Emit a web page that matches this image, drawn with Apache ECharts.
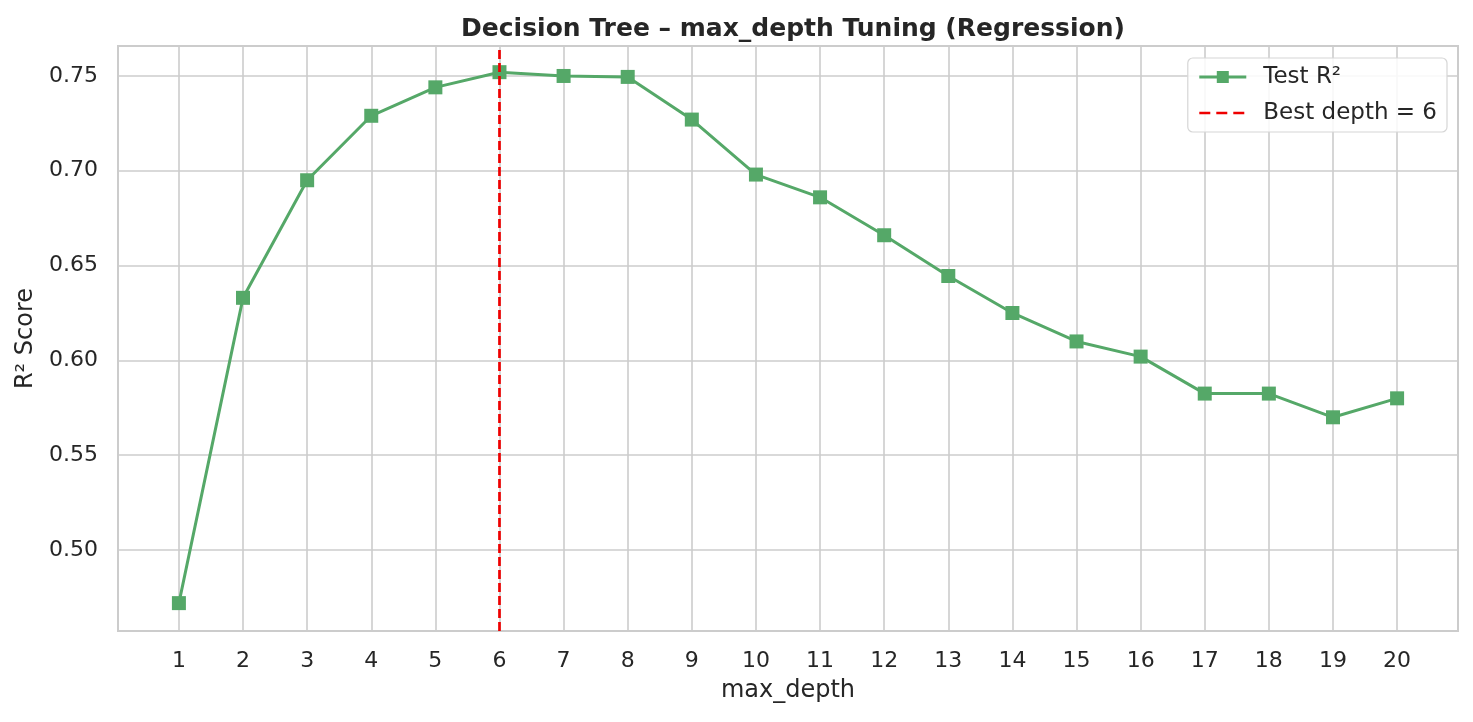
<!DOCTYPE html>
<html>
<head>
<meta charset="utf-8">
<script src="https://cdn.jsdelivr.net/npm/echarts@6/dist/echarts.min.js"></script>
<style>
  html, body { margin: 0; padding: 0; background: #fff; }
  #chart { width: 1473px; height: 722px; }
</style>
</head>
<body>
<div id="chart"></div>
<script>
// max_depth values and test R²
var depths = [1, 2, 3, 4, 5, 6, 7, 8, 9, 10, 11, 12, 13, 14, 15, 16, 17, 18, 19, 20];
var testR2 = [0.472, 0.633, 0.695, 0.729, 0.744, 0.752, 0.750, 0.7495, 0.727, 0.698,
              0.686, 0.666, 0.6445, 0.625, 0.610, 0.602, 0.5825, 0.5825, 0.570, 0.580];
var bestDepth = 6;
var yRange = [0.4573, 0.7658];
var xRange = [0.05, 20.95];

var font = 'DejaVu Sans';
var textColor = '#262626';
var gridColor = '#cccccc';
var green = '#55a868';
var red = '#ee0000';

var chart = echarts.init(document.getElementById('chart'));

chart.setOption({
    animation: false,
    textStyle: { fontFamily: font },
    title: {
        text: 'Decision Tree \u2013 max_depth Tuning (Regression)',
        left: 788, top: 12, textAlign: 'center',
        textStyle: { fontFamily: font, fontSize: 25, fontWeight: 'bold', color: textColor }
    },
    grid: {
        left: 118, right: 15, top: 46, bottom: 91,
        show: true, borderColor: gridColor, borderWidth: 2, backgroundColor: '#fff'
    },
    legend: {
        right: 26, top: 58,
        orient: 'vertical',
        itemGap: 12,
        itemWidth: 47, itemHeight: 15,
        padding: [7, 10, 7, 10],
        borderColor: '#d6d6d6', borderWidth: 1.2, borderRadius: 5,
        backgroundColor: 'rgba(255,255,255,0.85)',
        textStyle: { fontFamily: font, fontSize: 23, lineHeight: 24, color: textColor, padding: [0, 0, 0, 12] },
        data: [
            { name: 'Test R\u00b2', lineStyle: { width: 3 } },
            { name: 'Best depth = 6', lineStyle: { width: 2.7, type: [11, 6] } }
        ]
    },
    xAxis: {
        type: 'value',
        min: xRange[0], max: xRange[1],
        minInterval: 1, maxInterval: 1,
        name: 'max_depth', nameLocation: 'middle', nameGap: 48,
        nameTextStyle: { fontFamily: font, fontSize: 24, color: textColor },
        axisLine: { show: false },
        axisTick: { show: false },
        axisLabel: {
            showMinLabel: false, showMaxLabel: false,
            margin: 19, fontFamily: font, fontSize: 22, color: textColor,
            formatter: function (v) { return String(Math.round(v)); }
        },
        splitLine: { show: true, lineStyle: { color: gridColor, width: 1.6 } }
    },
    yAxis: {
        type: 'value',
        min: yRange[0], max: yRange[1],
        minInterval: 0.05, maxInterval: 0.05,
        name: 'R\u00b2 Score', nameLocation: 'middle', nameGap: 80,
        nameTextStyle: { fontFamily: font, fontSize: 24, color: textColor },
        axisLine: { show: false },
        axisTick: { show: false },
        axisLabel: {
            showMinLabel: false, showMaxLabel: false,
            margin: 20, fontFamily: font, fontSize: 22, color: textColor,
            formatter: function (v) { return v.toFixed(2); }
        },
        splitLine: { show: true, lineStyle: { color: gridColor, width: 1.6 } }
    },
    series: [
        {
            name: 'Test R\u00b2',
            type: 'line',
            data: depths.map(function (d, i) { return [d, testR2[i]]; }),
            symbol: 'rect', symbolSize: 14,
            lineStyle: { color: green, width: 3 },
            itemStyle: { color: green },
            z: 3
        },
        {
            name: 'Best depth = 6',
            type: 'line',
            data: [[bestDepth, yRange[0]], [bestDepth, yRange[1]]],
            symbol: 'none',
            lineStyle: { color: red, width: 2.7, type: [9, 4] },
            itemStyle: { color: 'transparent' },
            z: 4
        }
    ]
});
</script>
</body>
</html>
